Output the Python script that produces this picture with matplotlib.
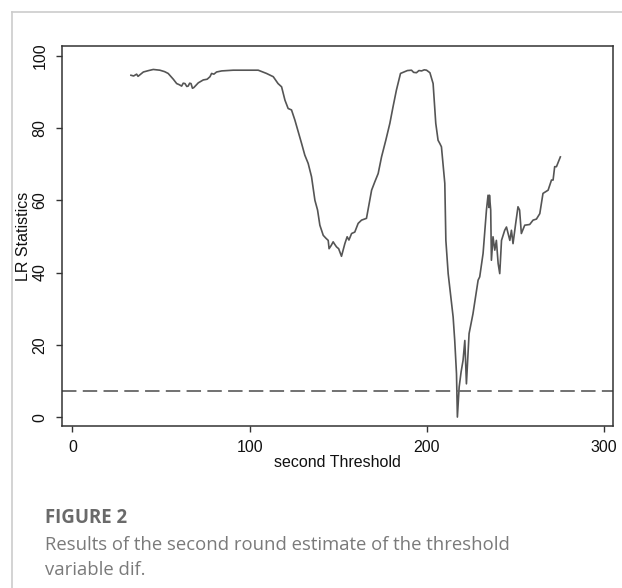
import numpy as np
import matplotlib
matplotlib.use("Agg")
import matplotlib.pyplot as plt
from matplotlib.lines import Line2D

# values
threshold = [33, 34.5, 36.2, 37, 40, 43, 45.6, 49.3, 52, 54,
             56.9, 58.8, 60.2, 61.6, 62.5, 63.5, 64.5, 65.3, 66.1, 66.9,
             67.7, 68.5, 71, 73.8, 76, 77.6, 78.5, 79.8, 81.3, 84.2,
             90.7, 102, 104.8, 109.5, 113.3, 116, 118, 119.9, 121.7, 123.6,
             125.5, 127.4, 129.3, 131.1, 133, 134.9, 136.8, 138.3, 139.6, 141.5,
             143, 144.3, 144.8, 146, 147.1, 148, 149, 150.2, 151.8, 153.7,
             155, 156, 157.5, 159.3, 161.2, 163.1, 165.9, 168.8, 170.6, 172.5,
             174.4, 176.8, 179.1, 180.9, 182.8, 185.1, 187.5, 189, 191.3, 192.5,
             194.1, 195.5, 197, 198.5, 199.8, 201.7, 203.5, 205, 206.3, 207.3,
             208.2, 210.1, 210.7, 212, 213.3, 214.8, 215.7, 216.7, 217.2, 218.2,
             219.3, 220.4, 221.4, 222.3, 223.8, 226, 228.9, 229.8, 231.7, 233.6,
             234.5, 235, 235.3, 236, 236.4, 237.3, 238.3, 239.2, 240.2, 241.1,
             242.1, 243.9, 244.9, 246.8, 247.7, 248.6, 250.1, 251.4, 252.3, 253.3,
             255.2, 258, 259.9, 261.8, 263.7, 265.5, 268.4, 270.3, 271.2, 272.1,
             273.1, 275.3]
lr_stat = [94.6, 94.4, 94.9, 94.3, 95.5, 95.9, 96.2, 96.0, 95.6, 95.1,
           93.5, 92.3, 92.0, 91.6, 92.4, 92.3, 91.5, 91.6, 92.4, 92.3,
           91.0, 91.2, 92.5, 93.3, 93.5, 94.2, 95.1, 94.9, 95.5, 95.8,
           96.0, 96.0, 96.0, 95.1, 94.2, 92.3, 91.4, 87.7, 85.4, 85.0,
           82.2, 79.0, 75.7, 72.5, 70.2, 66.5, 60.0, 57.3, 53.1, 50.3,
           49.5, 48.9, 46.6, 47.5, 48.5, 47.8, 47.1, 46.6, 44.5, 48.0,
           49.9, 49.0, 50.8, 51.2, 53.6, 54.5, 55.0, 62.8, 65.1, 67.4,
           72.0, 76.6, 81.3, 85.9, 90.5, 95.1, 95.6, 95.9, 96.0, 95.4,
           95.3, 95.9, 95.8, 96.1, 96.0, 95.3, 92.3, 81.3, 76.6, 75.7,
           74.8, 64.7, 48.9, 39.7, 34.2, 27.7, 21.2, 12.0, 0.0, 8.3,
           12.5, 15.7, 21.2, 9.2, 23.1, 28.6, 37.9, 38.8, 45.3, 57.3,
           61.4, 58.0, 61.4, 57.3, 43.4, 49.9, 46.2, 48.9, 42.5, 39.7,
           48.9, 51.7, 52.6, 48.9, 51.7, 48.0, 53.6, 58.2, 57.3, 50.8,
           53.1, 53.3, 54.5, 54.8, 56.3, 61.9, 62.8, 65.6, 65.6, 69.3,
           69.3, 72.0]
critical_value = 7.35
x_ticks = [0, 100, 200, 300]
y_ticks = [0, 20, 40, 60, 80, 100]

plt.rcParams['font.family'] = ['Liberation Sans', 'DejaVu Sans']

fig = plt.figure(figsize=(6.22, 5.88), dpi=100)
ax = fig.add_axes([0.0997, 0.2747, 0.8858, 0.6471])

ax.plot(threshold, lr_stat, color='#555555', lw=1.2)
ax.axhline(critical_value, color='#666666', lw=1.3, linestyle=(0, (8, 3.5)))

ax.set_xlim(-5.9, 305)
ax.set_ylim(-2.6, 102.7)
ax.set_xticks(x_ticks)
ax.set_yticks(y_ticks)
for s in ax.spines.values():
    s.set_color('#333333')
    s.set_linewidth(1.1)
ax.tick_params(axis='both', direction='out', length=4.5, width=1.0,
               color='#333333', labelsize=11.5, labelcolor='#111111')
ax.tick_params(axis='y', pad=6)
ax.tick_params(axis='x', pad=5)
for lab in ax.get_yticklabels():
    lab.set_rotation(90)
    lab.set_va('center')
ax.set_xlabel('second Threshold', fontsize=11.5, labelpad=0, color='#111111')
ax.set_ylabel('LR Statistics', fontsize=11.5, labelpad=1, color='#111111')

# outer frame of the figure panel
fig.add_artist(Line2D([12/622, 12/622], [0, 1 - 12/588], transform=fig.transFigure,
                      color='#cccccc', lw=1.2))
fig.add_artist(Line2D([12/622, 1], [1 - 12/588, 1 - 12/588], transform=fig.transFigure,
                      color='#cccccc', lw=1.2))

fig.text(45/622, 1 - 518/588, 'FIGURE 2', family=['Open Sans', 'DejaVu Sans'],
         fontsize=13.4, fontweight='bold', color='#6a6a6a', va='center')
fig.text(45/622, 1 - 545/588, 'Results of the second round estimate of the threshold',
         family=['Open Sans', 'DejaVu Sans'], fontsize=13.3, color='#7a7a7a', va='center')
fig.text(45/622, 1 - 570/588, 'variable dif.',
         family=['Open Sans', 'DejaVu Sans'], fontsize=13.3, color='#7a7a7a', va='center')

fig.savefig('out.png', dpi=100, facecolor='white')
